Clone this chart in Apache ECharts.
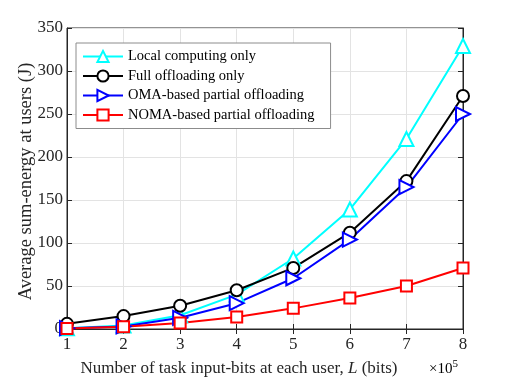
<!DOCTYPE html>
<html>
<head>
<meta charset="utf-8">
<script src="https://cdn.jsdelivr.net/npm/echarts@6/dist/echarts.min.js"></script>
<style>
  html, body { margin: 0; padding: 0; background: #fff; }
  #chart { width: 512px; height: 377px; }
</style>
</head>
<body>
<div id="chart"></div>
<script>
// data (x in units of 1e5 bits, y in J)
const bits = [1, 2, 3, 4, 5, 6, 7, 8]
const localOnly = [1, 4, 16, 40, 82, 139, 221, 329]
const fullOffload = [6, 15, 27, 45, 71, 112, 172, 271]
const omaPartial = [1, 3, 13, 30, 59, 104, 165, 250]
const nomaPartial = [0.5, 2.5, 7, 14, 24, 36, 50, 71]

const font = 'Liberation Serif'
const chart = echarts.init(document.getElementById('chart'))

const pairs = (ys) => bits.map((x, i) => [x, ys[i]])

const mkSeries = (name, ys, color, symbol, size, rotate) => ({
  name,
  type: 'line',
  data: pairs(ys),
  symbol,
  symbolSize: size,
  symbolRotate: rotate || 0,
  showAllSymbol: true,
  lineStyle: { color, width: 2 },
  itemStyle: { color, borderWidth: 2 },
  z: 3
})

const option = {
  backgroundColor: '#fff',
  animation: false,
  textStyle: { fontFamily: font },
  grid: {
    left: 67, right: 49, top: 28, bottom: 48,
    outerBoundsMode: 'none',
    show: true, borderColor: '#262626', borderWidth: 1
  },
  legend: {
    orient: 'vertical',
    left: 76, top: 43,
    padding: [6, 16, 6, 6],
    itemGap: 4.5,
    itemWidth: 40,
    itemHeight: 14,
    borderColor: '#8c8c8c',
    borderWidth: 1,
    backgroundColor: '#fff',
    textStyle: { fontFamily: font, fontSize: 14.5, color: '#000' }
  },
  xAxis: [
    {
      type: 'value', min: 1, max: 8, interval: 1,
      name: '{a|Number of task input-bits at each user, }{i|L}{a| (bits)}',
      nameLocation: 'middle', nameGap: 31,
      nameMoveOverlap: false,
      nameTextStyle: {
        padding: [0, 52, 0, 0],
        rich: {
          a: { fontFamily: font, fontSize: 17, color: '#262626' },
          i: { fontFamily: font, fontSize: 17, fontStyle: 'italic', color: '#262626' }
        }
      },
      axisLine: { lineStyle: { color: '#262626' } },
      axisTick: { inside: true, length: 5, lineStyle: { color: '#262626' } },
      axisLabel: { fontSize: 17, color: '#262626', margin: 7 },
      splitLine: { show: true, lineStyle: { color: '#e3e3e3' } }
    },
    {
      type: 'value', min: 1, max: 8, interval: 1, position: 'top',
      axisLine: { lineStyle: { color: '#262626' } },
      axisTick: { inside: true, length: 5, lineStyle: { color: '#262626' } },
      axisLabel: { show: false },
      splitLine: { show: false }
    }
  ],
  yAxis: [
    {
      type: 'value', min: 0, max: 350, interval: 50,
      name: 'Average sum-energy at users (J)',
      nameLocation: 'middle', nameGap: 31,
      nameMoveOverlap: false,
      nameTextStyle: { fontSize: 18.5, color: '#262626', padding: [0, 6, 0, 0] },
      axisLine: { show: true, lineStyle: { color: '#262626' } },
      axisTick: { show: true, inside: true, length: 5, lineStyle: { color: '#262626' } },
      axisLabel: { fontSize: 17, color: '#262626', margin: 4 },
      splitLine: { show: true, lineStyle: { color: '#e3e3e3' } }
    },
    {
      type: 'value', min: 0, max: 350, interval: 50, position: 'right',
      axisLine: { show: true, lineStyle: { color: '#262626' } },
      axisTick: { show: true, inside: true, length: 5, lineStyle: { color: '#262626' } },
      axisLabel: { show: false },
      splitLine: { show: false }
    }
  ],
  graphic: [
    {
      type: 'text',
      left: 429, top: 359,
      style: {
        text: '{a|×10}{s|5}',
        rich: {
          a: { fontFamily: font, fontSize: 15, color: '#262626' },
          s: { fontFamily: font, fontSize: 11, color: '#262626', verticalAlign: 'top', padding: [0, 0, 9, 0] }
        }
      }
    }
  ],
  series: [
    mkSeries('Local computing only', localOnly, '#00ffff', 'emptyTriangle', 14),
    mkSeries('Full offloading only', fullOffload, '#000000', 'emptyCircle', 12),
    mkSeries('OMA-based partial offloading', omaPartial, '#0000ff', 'emptyTriangle', 14, -90),
    mkSeries('NOMA-based partial offloading', nomaPartial, '#ff0000', 'emptyRect', 11)
  ]
}

chart.setOption(option)
</script>
</body>
</html>
